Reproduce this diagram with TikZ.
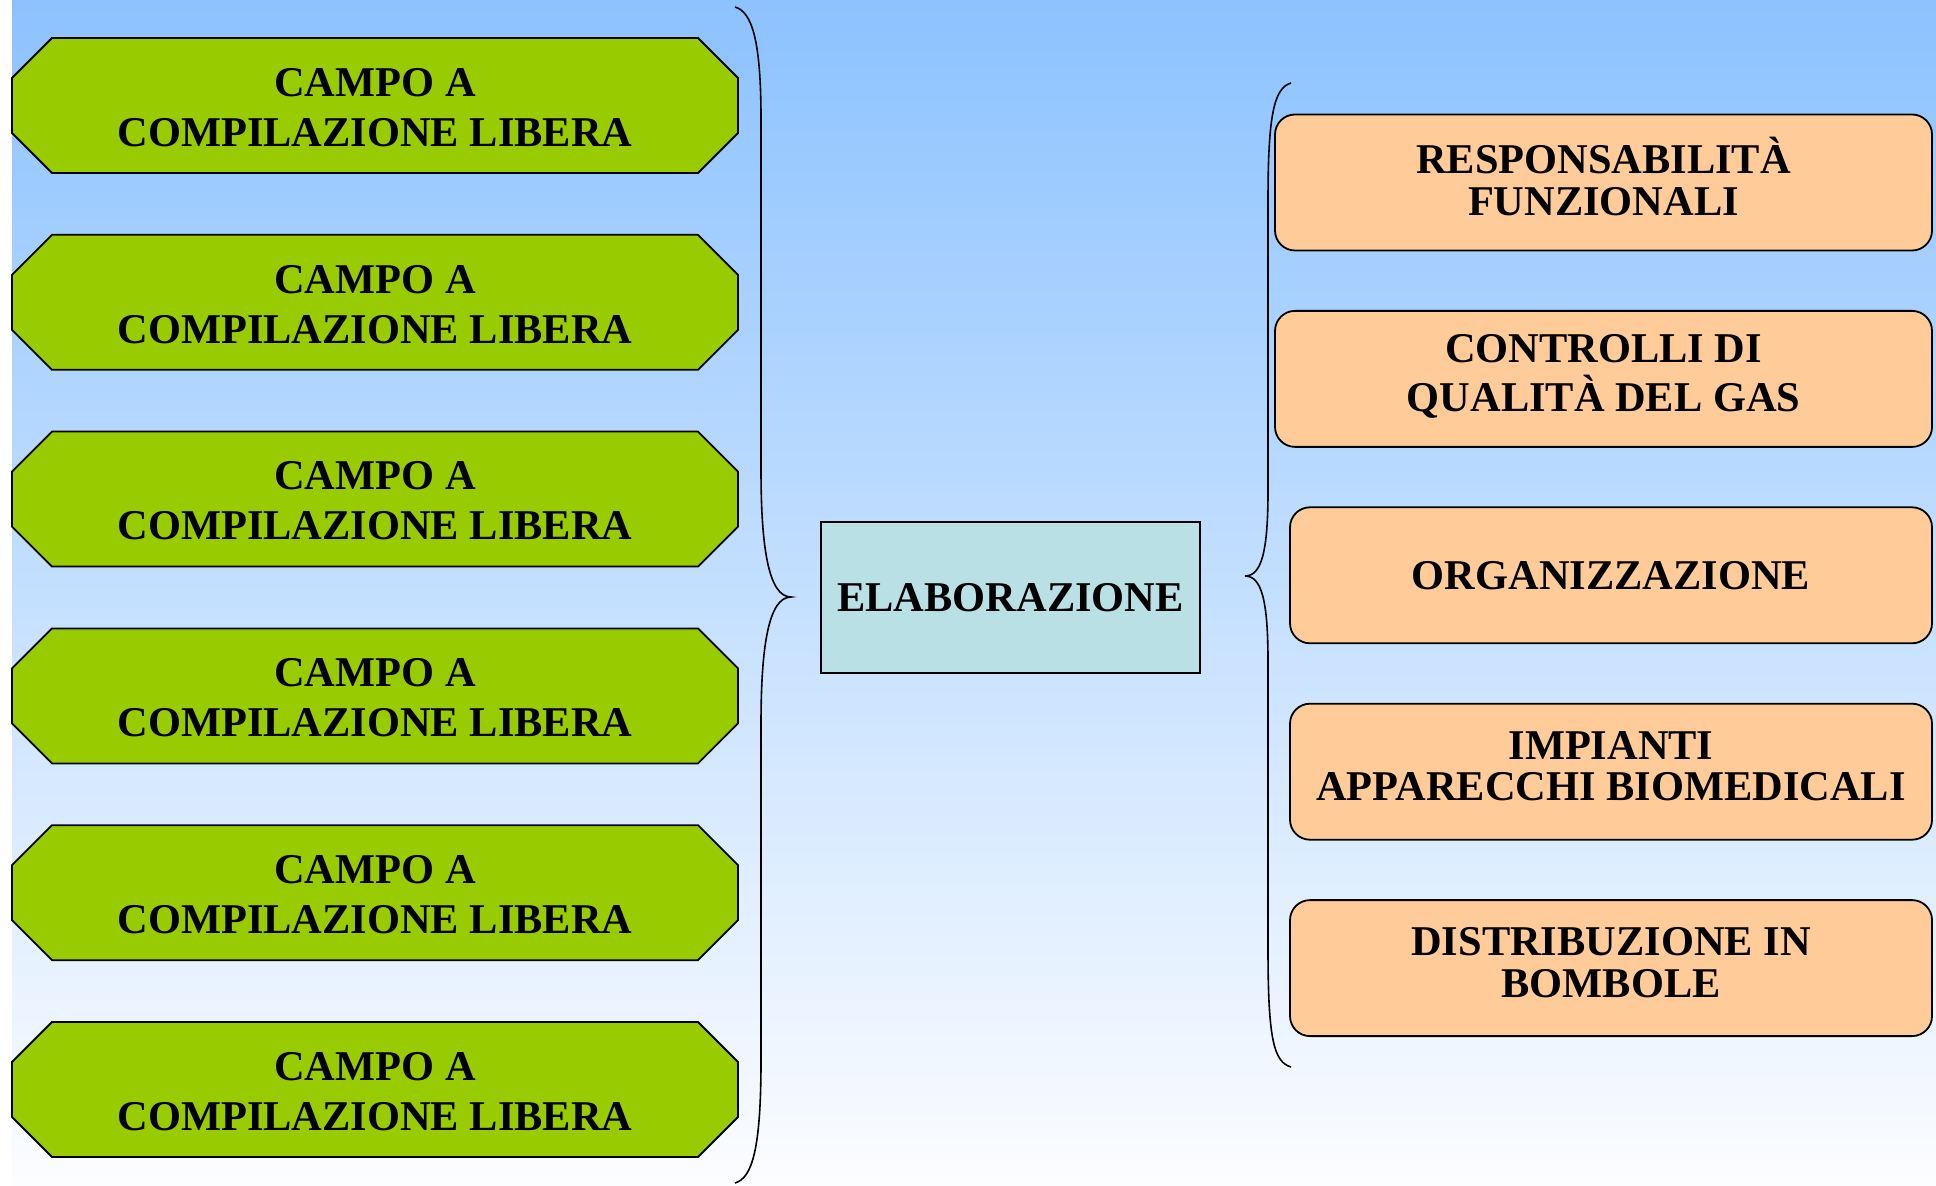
\documentclass[tikz,border=0pt]{standalone}
\usepackage{fontspec}
\setmainfont{Liberation Serif}
\usetikzlibrary{calc,backgrounds}
\pgfdeclarelayer{back}
\pgfsetlayers{back,background,main}
\definecolor{bgtop}{RGB}{140,194,255}
\definecolor{bgbot}{RGB}{252,253,255}
\definecolor{campogreen}{RGB}{153,204,0}
\definecolor{areaorange}{RGB}{255,204,153}
\definecolor{elabteal}{RGB}{185,224,228}
\newcommand{\twolines}[2]{\raisebox{2.5pt}{\begin{tabular}{@{}c@{}}#1\\#2\end{tabular}}}
\begin{document}
\begin{tikzpicture}[x=0.5pt,y=-0.5pt,
  campo/.style={rectangle, minimum width=363pt, minimum height=67.5pt,
    inner sep=0pt, outer sep=0pt, align=center,
    font=\fontsize{21.2}{25}\selectfont\bfseries},
  campoframe/.style={draw=black, line width=0.9pt, fill=campogreen},
  area/.style={rectangle, rounded corners=10pt, draw=black, line width=0.9pt,
    fill=areaorange, minimum height=68pt, inner sep=0pt, outer sep=0pt,
    font=\fontsize{21.2}{20.8}\selectfont\bfseries},
  elab/.style={rectangle, draw=black, line width=0.9pt, fill=elabteal,
    minimum width=189.5pt, minimum height=75.5pt, inner sep=0pt,
    outer sep=0pt, font=\fontsize{21.2}{24}\selectfont\bfseries},
  bracket/.style={draw=black, line width=0.8pt}]
\useasboundingbox (0,0) rectangle (1936,1186);
\begin{pgfonlayer}{back}
\fill[white] (0,0) rectangle (12,1186);
\fill[top color=bgtop, bottom color=bgbot] (12,0) rectangle (1936,1186);
\end{pgfonlayer}

% left column
\foreach \i/\yy in {1/105.5,2/302.3,3/499.1,4/695.9,5/892.7,6/1089.5}{
  \node[campo] (campo\i) at (375,\yy+2) {CAMPO A\\COMPILAZIONE LIBERA};
  \begin{scope}[on background layer]
  \draw[campoframe] ($(campo\i.north west)+(40,-2)$) -- ($(campo\i.north east)+(-40,-2)$)
    -- ($(campo\i.north east)+(0,38)$) -- ($(campo\i.south east)+(0,-42)$)
    -- ($(campo\i.south east)+(-40,-2)$) -- ($(campo\i.south west)+(40,-2)$)
    -- ($(campo\i.south west)+(0,-42)$) -- ($(campo\i.north west)+(0,38)$) -- cycle;
  \end{scope}
}

% centre
\node[elab] (elab) at (1010.5,597.5) {ELABORAZIONE};

% right column
\node[area, minimum width=328.5pt] (resp) at (1603.5,182.5) {\twolines{RESPONSABILIT\`A}{FUNZIONALI}};
\node[area, minimum width=328.5pt] (ctrl) at (1603.5,378.9) {\twolines{CONTROLLI DI}{QUALIT\`A DEL GAS}};
\node[area, minimum width=321pt] (org) at (1611,575.3) {ORGANIZZAZIONE};
\node[area, minimum width=321pt] (imp) at (1611,771.7) {\twolines{IMPIANTI}{APPARECCHI BIOMEDICALI}};
\node[area, minimum width=321pt] (dist) at (1611,968.1) {\twolines{DISTRIBUZIONE IN}{BOMBOLE}};

% left brace
\coordinate (lbTop) at (735,7);
\coordinate (lbTip) at (791,597);
\coordinate (lbBot) at (735,1183);
\draw[bracket] (lbTop) .. controls (752,12) and (761,40) .. (761,120)
  -- (761,470) .. controls (761,545) and (768,597) .. (lbTip)
  .. controls (768,597) and (761,649) .. (761,724)
  -- (761,1060) .. controls (761,1150) and (752,1178) .. (lbBot);

% right brace
\coordinate (rbTop) at (1291,83);
\coordinate (rbTip) at (1245,576);
\coordinate (rbBot) at (1291,1067);
\draw[bracket] (rbTop) .. controls (1274,88) and (1268,115) .. (1268,200)
  -- (1268,490) .. controls (1268,550) and (1262,576) .. (rbTip)
  .. controls (1262,576) and (1268,602) .. (1268,662)
  -- (1268,950) .. controls (1268,1040) and (1274,1062) .. (rbBot);
\end{tikzpicture}
\end{document}
